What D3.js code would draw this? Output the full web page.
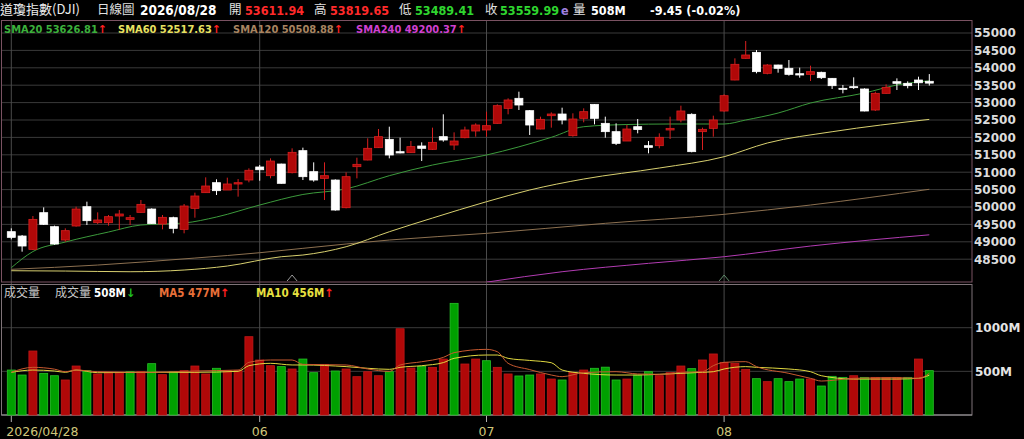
<!DOCTYPE html>
<html>
<head>
<meta charset="utf-8">
<script src="https://cdn.jsdelivr.net/npm/d3@7"></script>
<style>
  body { margin: 0; background: #000; overflow: hidden; }
  svg { display: block; }
  .cjk { font-family: 'Noto Sans CJK TC', sans-serif; }
  .num { font-family: 'DejaVu Sans Condensed', 'DejaVu Sans', sans-serif; font-weight: bold; }
  .axis { font-family: 'DejaVu Sans', sans-serif; font-weight: bold; }
</style>
</head>
<body>
<svg id="chart" width="1024" height="439"></svg>
<script>
const title = '道瓊指數(DJI)';
const chartType = '日線圖';
const lastDate = '2026/08/28';

const monthTicks = [0, 23, 44, 66];
const monthLabels = ['2026/04/28', '06', '07', '08'];
const markers = [26, 66];

const priceTicks = [48500, 49000, 49500, 50000, 50500, 51000, 51500, 52000, 52500, 53000, 53500, 54000, 54500, 55000];
const volTicks = [500, 1000];

const opens = [49291, 49166, 48783, 49837, 49435, 49051, 49454, 50009, 49550, 49550,
  49741, 49645, 49846, 49942, 49511, 49693, 49358, 49961, 50412, 50699,
  50488, 50661, 50776, 51150, 50900, 51235, 50986, 51619, 51015, 50823,
  50775, 49980, 51159, 51350, 51705, 51944, 51590, 51561, 51753, 51657,
  52021, 51781, 51992, 52184, 52213, 52404, 52835, 53123, 52768, 52241,
  52624, 52672, 52050, 52548, 52950, 52404, 52165, 51896, 52308, 51762,
  51762, 52213, 52500, 52663, 52165, 52260, 52758, 53649, 54272, 54444,
  53841, 54080, 53985, 53831, 53812, 53870, 53697, 53410, 53458, 53391,
  52787, 53266, 53601, 53554, 53649, 53611.94];
const highs = [49387, 49195, 49741, 49990, 49464, 49387, 50009, 50153, 49846, 49770,
  49914, 49770, 50201, 49962, 49770, 49722, 50086, 50412, 50852, 50795,
  50843, 50804, 51111, 51207, 51398, 51245, 51686, 51705, 51283, 51283,
  50794, 50996, 51417, 51973, 52241, 52308, 51992, 51896, 51858, 52280,
  52663, 52145, 52309, 52404, 52739, 52950, 53123, 53314, 52787, 52596,
  52720, 52854, 52692, 52835, 52960, 52596, 52404, 52356, 52528, 51896,
  52117, 52596, 52912, 52692, 52280, 52624, 53238, 54272, 54770, 54511,
  54109, 54090, 54224, 54004, 54061, 53889, 53707, 53506, 53726, 53410,
  53314, 53525, 53697, 53611, 53745, 53819.65];
const lows = [49070, 48716, 48764, 49483, 48917, 49003, 49435, 49483, 49511, 49464,
  49339, 49483, 49837, 49511, 49358, 49243, 49243, 49693, 50412, 50345,
  50488, 50297, 50709, 50756, 50823, 50670, 50966, 50775, 50728, 50201,
  49894, 49961, 50823, 51341, 51695, 51398, 51542, 51552, 51322, 51638,
  51877, 51638, 51973, 52021, 52021, 52395, 52663, 52787, 52069, 52232,
  52280, 52375, 52021, 52433, 52375, 51992, 51781, 51896, 52117, 51542,
  51686, 51954, 52433, 51571, 51638, 52021, 52740, 53640, 54262, 53841,
  53812, 53860, 53774, 53716, 53621, 53678, 53391, 53266, 53391, 52749,
  52758, 53257, 53362, 53410, 53362, 53489.41];
const closes = [49128, 48879, 49645, 49502, 48936, 49320, 49942, 49607, 49627, 49722,
  49799, 49693, 50076, 49521, 49703, 49387, 50028, 50316, 50603, 50469,
  50661, 50699, 51055, 51070, 51321, 50680, 51571, 50871, 50775, 50900,
  49913, 50871, 51226, 51686, 52021, 51494, 51552, 51734, 51686, 51858,
  51925, 51896, 52213, 52356, 52337, 52912, 53075, 52931, 52356, 52519,
  52672, 52500, 52528, 52739, 52548, 52165, 51829, 52241, 52225, 51714,
  52002, 52260, 52759, 51590, 52232, 52500, 53199, 54100, 54368, 53889,
  54080, 53985, 53812, 53793, 53889, 53716, 53486, 53391, 53429, 52758,
  53266, 53439, 53554, 53487, 53569.44, 53559.99];
const volumes = [515, 458, 733, 477, 450, 401, 561, 508, 470, 489,
  489, 496, 496, 588, 462, 496, 508, 561, 470, 535,
  508, 508, 897, 630, 565, 554, 527, 641, 485, 580,
  504, 527, 439, 496, 450, 496, 988, 538, 555, 546,
  641, 1279, 584, 641, 622, 546, 470, 447, 458, 470,
  412, 401, 489, 515, 535, 548, 401, 412, 458, 496,
  450, 485, 561, 531, 630, 699, 603, 592, 523, 416,
  382, 416, 382, 412, 412, 332, 443, 431, 450, 431,
  431, 431, 431, 431, 641, 508];

// [bar index, value]
const sma20 = [[0, 48255], [2, 48720], [5, 48993], [9, 49281], [12, 49482], [16, 49540],
  [19, 49712], [23, 50057], [27, 50360], [31, 50520], [35, 50900], [39, 51206],
  [44, 51494], [50, 52002], [53, 52307], [57, 52370], [61, 52385], [66, 52385],
  [68, 52500], [71, 52700], [74, 52988], [79, 53276], [82, 53506], [85, 53626.81]];
const sma60 = [[0, 48169], [5, 48160], [11, 48140], [16, 48189], [20, 48304], [25, 48571],
  [27, 48620], [31, 48858], [35, 49289], [39, 49683], [44, 50152], [48, 50488],
  [53, 50804], [60, 51120], [66, 51445], [70, 51839], [76, 52163], [85, 52517.63]];
const sma120 = [[0, 48209], [8, 48332], [17, 48533], [23, 48686], [27, 48812], [35, 49051],
  [44, 49243], [55, 49531], [66, 49789], [74, 50057], [85, 50508.88]];
const sma240 = [[44, 47840], [51, 48140], [59, 48381], [66, 48571], [74, 48878], [85, 49200.37]];

const volMa5 = [[0, 489], [2, 546], [4, 525], [5, 496], [6, 515], [8, 496], [13, 489], [17, 504],
  [21, 515], [22, 603], [24, 630], [26, 630], [27, 580], [31, 573], [33, 527], [35, 500],
  [36, 573], [38, 610], [40, 660], [41, 714], [44, 752], [45, 725], [46, 592], [48, 520],
  [50, 458], [51, 439], [53, 485], [56, 496], [58, 470], [60, 466], [62, 489], [64, 496],
  [65, 565], [66, 603], [68, 611], [69, 554], [72, 477], [74, 420], [75, 389], [78, 420],
  [82, 428], [84, 420], [85, 477]];
const volMa10 = [[0, 489], [2, 515], [4, 504], [5, 489], [6, 515], [8, 485], [13, 489], [17, 489],
  [21, 500], [22, 565], [24, 592], [26, 573], [27, 573], [31, 554], [33, 535], [35, 523],
  [36, 546], [38, 565], [40, 600], [41, 649], [44, 687], [45, 687], [46, 649], [48, 625],
  [50, 599], [51, 515], [53, 477], [56, 458], [58, 458], [60, 466], [62, 477], [64, 489],
  [65, 496], [66, 527], [68, 554], [69, 546], [72, 527], [74, 496], [75, 450], [78, 412],
  [82, 412], [84, 420], [85, 456]];

const RED = '#b00808';
const RED_EDGE = '#d82020';
const GREEN = '#00a000';
const GREEN_EDGE = '#28c028';

const svg = d3.select('#chart');
const n = closes.length;
const left = 2, right = 972;
const priceTop = 20.5, priceBottom = 282;
const volTop = 284.5, volBottom = 415;

const x = d3.scalePoint()
  .domain(d3.range(n))
  .range([11.3, 929.3]);

const y = d3.scaleLinear()
  .domain([48500, 55000])
  .range([259.2, 33]);

const vy = d3.scaleLinear()
  .domain([0, 1000])
  .range([volBottom, 327.7]);

svg.append('rect')
  .attr('width', 1024).attr('height', 439)
  .attr('fill', '#000');

const defs = svg.append('defs');
defs.append('clipPath').attr('id', 'price-clip')
  .append('rect')
    .attr('x', left).attr('y', priceTop)
    .attr('width', right - left).attr('height', priceBottom - priceTop);

// Grid
const grid = svg.append('g');
grid.selectAll('.hgrid')
  .data(priceTicks)
  .enter().append('line')
    .attr('x1', left).attr('x2', right)
    .attr('y1', d => y(d)).attr('y2', d => y(d))
    .attr('stroke', '#3a3a3a');

grid.selectAll('.vgrid')
  .data(volTicks)
  .enter().append('line')
    .attr('x1', left).attr('x2', right)
    .attr('y1', d => vy(d)).attr('y2', d => vy(d))
    .attr('stroke', '#3a3a3a');

grid.selectAll('.mgrid')
  .data(monthTicks)
  .enter().append('line')
    .attr('x1', d => x(d)).attr('x2', d => x(d))
    .attr('y1', priceTop).attr('y2', volBottom)
    .attr('stroke', '#4a4a4a');

// Panel borders
svg.append('rect')
  .attr('x', 1.5).attr('y', priceTop)
  .attr('width', right - 1.5).attr('height', priceBottom - priceTop)
  .attr('fill', 'none')
  .attr('stroke', '#7a5262');

svg.append('rect')
  .attr('x', 1.5).attr('y', volTop)
  .attr('width', right - 1.5).attr('height', volBottom - volTop)
  .attr('fill', 'none')
  .attr('stroke', '#7f7378');

svg.append('line')
  .attr('x1', 1.5).attr('x2', right)
  .attr('y1', volBottom).attr('y2', volBottom)
  .attr('stroke', '#9a9a9a');

// Price axis
const yAxis = svg.append('g')
  .attr('transform', `translate(${right},0)`)
  .call(d3.axisRight(y).tickValues(priceTicks).tickSize(0).tickPadding(2).tickFormat(d3.format('d')));
yAxis.select('.domain').remove();
yAxis.selectAll('text')
  .attr('class', 'axis')
  .attr('font-size', 12)
  .attr('fill', '#dcdcdc');

const vAxis = svg.append('g')
  .attr('transform', `translate(${right},0)`)
  .call(d3.axisRight(vy).tickValues(volTicks).tickSize(0).tickPadding(3).tickFormat(d => d + 'M'));
vAxis.select('.domain').remove();
vAxis.selectAll('text')
  .attr('class', 'axis')
  .attr('font-size', 12)
  .attr('fill', '#e4e4e4');

// Moving averages
const plot = svg.append('g').attr('clip-path', 'url(#price-clip)');
const maLine = d3.line()
  .x(d => x(d[0]))
  .y(d => y(d[1]))
  .curve(d3.curveMonotoneX);

[[sma240, '#b23cb2'], [sma120, '#8c7050'], [sma60, '#d8d070'], [sma20, '#3c9a3c']].forEach(([pts, color]) => {
  plot.append('path')
    .attr('d', maLine(pts))
    .attr('fill', 'none')
    .attr('stroke', color)
    .attr('stroke-width', 1);
});

// Candles
const candles = plot.selectAll('.candle')
  .data(d3.range(n))
  .enter().append('g');

candles.append('line')
  .attr('x1', i => x(i)).attr('x2', i => x(i))
  .attr('y1', i => y(highs[i])).attr('y2', i => y(lows[i]))
  .attr('stroke', i => closes[i] >= opens[i] ? RED_EDGE : '#fff');

candles.append('rect')
  .attr('x', i => x(i) - 4)
  .attr('width', 8)
  .attr('y', i => y(Math.max(opens[i], closes[i])))
  .attr('height', i => Math.max(1, y(Math.min(opens[i], closes[i])) - y(Math.max(opens[i], closes[i]))))
  .attr('fill', i => closes[i] >= opens[i] ? RED : '#fff')
  .attr('stroke', i => closes[i] >= opens[i] ? RED_EDGE : '#fff')
  .attr('stroke-width', 0.8);

// Markers under the price panel
svg.selectAll('.marker')
  .data(markers)
  .enter().append('path')
    .attr('d', i => `M${x(i) - 5},281 L${x(i)},275 L${x(i) + 5},281`)
    .attr('fill', 'none')
    .attr('stroke', (d, k) => k === 0 ? '#9a9a9a' : '#5f8a6a');

// Volume bars, coloured against the previous close
const volUp = i => i === 0 ? closes[i] >= opens[i] : closes[i] > closes[i - 1];

svg.selectAll('.vol')
  .data(d3.range(n))
  .enter().append('rect')
    .attr('x', i => x(i) - 4)
    .attr('width', 8)
    .attr('y', i => vy(volumes[i]))
    .attr('height', i => volBottom - vy(volumes[i]))
    .attr('fill', i => volUp(i) ? RED : GREEN)
    .attr('stroke', i => volUp(i) ? '#c01818' : GREEN_EDGE)
    .attr('stroke-width', 0.8);

const volLine = d3.line()
  .x(d => x(d[0]))
  .y(d => vy(d[1]))
  .curve(d3.curveMonotoneX);

[[volMa10, '#e0d840'], [volMa5, '#c85a30']].forEach(([pts, color]) => {
  svg.append('path')
    .attr('d', volLine(pts))
    .attr('fill', 'none')
    .attr('stroke', color)
    .attr('stroke-width', 1);
});

// X axis
svg.selectAll('.xtick')
  .data(monthTicks)
  .enter().append('line')
    .attr('x1', d => x(d)).attr('x2', d => x(d))
    .attr('y1', volBottom + 1).attr('y2', volBottom + 7)
    .attr('stroke', '#b0b0b0');

svg.selectAll('.xlabel')
  .data(monthTicks)
  .enter().append('text')
    .attr('x', (d, k) => k === 0 ? x(d) - 5 : x(d))
    .attr('y', 436)
    .attr('text-anchor', (d, k) => k === 0 ? 'start' : 'middle')
    .attr('font-family', 'DejaVu Sans, sans-serif')
    .attr('font-size', 12.5)
    .attr('fill', '#cfc67a')
    .text((d, k) => monthLabels[k]);

// Header
const last = n - 1;
const change = closes[last] - closes[last - 1];
const pct = change / closes[last - 1] * 100;
const fmt = v => d3.format('.2f')(v).replace('−', '-');

function label(xPos, yPos, txt, color, cls, size) {
  return svg.append('text')
    .attr('x', xPos).attr('y', yPos)
    .attr('class', cls)
    .attr('font-size', size)
    .attr('fill', color)
    .text(txt);
}

label(0, 14, title, '#ececec', 'cjk', 13);
label(97, 14, chartType, '#e0e0e0', 'cjk', 12.5);
label(140, 15, lastDate, '#ffffff', 'num', 13.5);
label(229, 14, '開', '#e0e0e0', 'cjk', 12.5);
label(245, 15, fmt(opens[last]), '#ff2a2a', 'num', 12.5);
label(314, 14, '高', '#e0e0e0', 'cjk', 12.5);
label(330, 15, fmt(highs[last]), '#ff2a2a', 'num', 12.5);
label(399, 14, '低', '#e0e0e0', 'cjk', 12.5);
label(415, 15, fmt(lows[last]), '#2fd62f', 'num', 12.5);
label(485, 14, '收', '#e0e0e0', 'cjk', 12.5);
label(500, 15, fmt(closes[last]), '#2fd62f', 'num', 12.5);
label(561, 15, 'e', '#a080e0', 'num', 12.5);
label(573, 14, '量', '#e0e0e0', 'cjk', 12.5);
label(591, 15, volumes[last] + 'M', '#ffffff', 'num', 12.5);
label(650, 15, `${fmt(change)} (${fmt(pct)}%)`, '#ffffff', 'num', 12.5);

// MA legends
function legend(xPos, yPos, txt, color, arrowColor, arrow, size) {
  const t = svg.append('text')
    .attr('x', xPos).attr('y', yPos)
    .attr('class', 'num')
    .attr('font-size', size);
  t.append('tspan').attr('fill', color).text(txt);
  t.append('tspan').attr('fill', arrowColor).attr('font-family', 'DejaVu Sans').text(arrow);
}

const lastOf = pts => pts[pts.length - 1][1];
legend(4, 33, 'SMA20 ' + fmt(lastOf(sma20)), '#3cb03c', '#ff2020', '↑', 11);
legend(118, 33, 'SMA60 ' + fmt(lastOf(sma60)), '#e8e060', '#ff2020', '↑', 11);
legend(233, 33, 'SMA120 ' + fmt(lastOf(sma120)), '#a88460', '#ff2020', '↑', 11);
legend(356, 33, 'SMA240 ' + fmt(lastOf(sma240)), '#d040d0', '#ff2020', '↑', 11);

label(4, 297, '成交量', '#c8c8c8', 'cjk', 12);
label(55, 297, '成交量', '#c8c8c8', 'cjk', 12);
legend(94, 297, volumes[last] + 'M', '#ffffff', '#20c020', '↓', 11.5);
legend(159, 297, 'MA5 ' + lastOf(volMa5) + 'M', '#e8703a', '#ff2020', '↑', 11.5);
legend(256, 297, 'MA10 ' + lastOf(volMa10) + 'M', '#e8e040', '#ff2020', '↑', 11.5);
</script>
</body>
</html>
